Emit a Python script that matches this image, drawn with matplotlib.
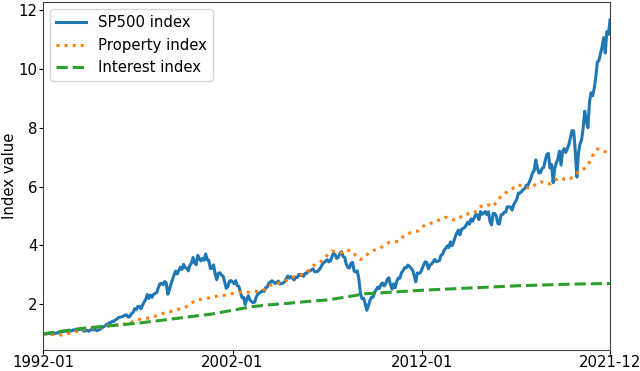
import numpy as np
import matplotlib
matplotlib.use("Agg")
import matplotlib.pyplot as plt

# Monthly S&P 500 closes, 1992-01 .. 2021-12 (normalised to the first month)
sp500_close = [
    408.79, 412.70, 403.69, 414.95, 415.35, 408.14, 424.21, 414.03, 417.80, 418.68, 431.35, 435.71,
    438.78, 443.38, 451.67, 440.19, 450.19, 450.53, 448.13, 463.56, 458.93, 467.83, 461.79, 466.45,
    481.61, 467.14, 445.77, 450.91, 456.50, 444.27, 458.26, 475.49, 462.69, 472.35, 453.69, 459.27,
    470.42, 487.39, 500.71, 514.71, 533.40, 544.75, 562.06, 561.88, 584.41, 581.50, 605.37, 615.93,
    636.02, 640.43, 645.50, 654.17, 669.12, 670.63, 639.95, 651.99, 687.33, 705.27, 757.02, 740.74,
    786.16, 790.82, 757.12, 801.34, 848.28, 885.14, 954.29, 899.47, 947.28, 914.62, 955.40, 970.43,
    980.28, 1049.34, 1101.75, 1111.75, 1090.82, 1133.84, 1120.67, 957.28, 1017.01, 1098.67, 1163.63, 1229.23,
    1279.64, 1238.33, 1286.37, 1335.18, 1301.84, 1372.71, 1328.72, 1320.41, 1282.71, 1362.93, 1388.91, 1469.25,
    1394.46, 1366.42, 1498.58, 1452.43, 1420.60, 1454.60, 1430.83, 1517.68, 1436.51, 1429.40, 1314.95, 1320.28,
    1366.01, 1239.94, 1160.33, 1249.46, 1255.82, 1224.42, 1211.23, 1133.58, 1040.94, 1059.78, 1139.45, 1148.08,
    1130.20, 1106.73, 1147.39, 1076.92, 1067.14, 989.82, 911.62, 916.07, 815.28, 885.76, 936.31, 879.82,
    855.70, 841.15, 848.18, 916.92, 963.59, 974.50, 990.31, 1008.01, 995.97, 1050.71, 1058.20, 1111.92,
    1131.13, 1144.94, 1126.21, 1107.30, 1120.68, 1140.84, 1101.72, 1104.24, 1114.58, 1130.20, 1173.82, 1211.92,
    1181.27, 1203.60, 1180.59, 1156.85, 1191.50, 1191.33, 1234.18, 1220.33, 1228.81, 1207.01, 1249.48, 1248.29,
    1280.08, 1280.66, 1294.83, 1310.61, 1270.09, 1270.20, 1276.66, 1303.82, 1335.85, 1377.94, 1400.63, 1418.30,
    1438.24, 1406.82, 1420.86, 1482.37, 1530.62, 1503.35, 1455.27, 1473.99, 1526.75, 1549.38, 1481.14, 1468.36,
    1378.55, 1330.63, 1322.70, 1385.59, 1400.38, 1280.00, 1267.38, 1282.83, 1166.36, 968.75, 896.24, 903.25,
    825.88, 735.09, 797.87, 872.81, 919.14, 919.32, 987.48, 1020.62, 1057.08, 1036.19, 1095.63, 1115.10,
    1073.87, 1104.49, 1169.43, 1186.69, 1089.41, 1030.71, 1101.60, 1049.33, 1141.20, 1183.26, 1180.55, 1257.64,
    1286.12, 1327.22, 1325.83, 1363.61, 1345.20, 1320.64, 1292.28, 1218.89, 1131.42, 1253.30, 1246.96, 1257.60,
    1312.41, 1365.68, 1408.47, 1397.91, 1310.33, 1362.16, 1379.32, 1406.58, 1440.67, 1412.16, 1416.18, 1426.19,
    1498.11, 1514.68, 1569.19, 1597.57, 1630.74, 1606.28, 1685.73, 1632.97, 1681.55, 1756.54, 1805.81, 1848.36,
    1782.59, 1859.45, 1872.34, 1883.95, 1923.57, 1960.23, 1930.67, 2003.37, 1972.29, 2018.05, 2067.56, 2058.90,
    1994.99, 2104.50, 2067.89, 2085.51, 2107.39, 2063.11, 2103.84, 1972.18, 1920.03, 2079.36, 2080.41, 2043.94,
    1940.24, 1932.23, 2059.74, 2065.30, 2096.95, 2098.86, 2173.60, 2170.95, 2168.27, 2126.15, 2198.81, 2238.83,
    2278.87, 2363.64, 2362.72, 2384.20, 2411.80, 2423.41, 2470.30, 2471.65, 2519.36, 2575.26, 2647.58, 2673.61,
    2823.81, 2713.83, 2640.87, 2648.05, 2705.27, 2718.37, 2816.29, 2901.52, 2913.98, 2711.74, 2760.17, 2506.85,
    2704.10, 2784.49, 2834.40, 2945.83, 2752.06, 2941.76, 2980.38, 2926.46, 2976.74, 3037.56, 3140.98, 3230.78,
    3225.52, 2954.22, 2584.59, 2912.43, 3044.31, 3100.29, 3271.12, 3500.31, 3363.00, 3269.96, 3621.63, 3756.07,
    3714.24, 3811.15, 3972.89, 4181.17, 4204.11, 4297.50, 4395.26, 4522.68, 4307.54, 4605.38, 4567.00, 4766.18,
]

# Property index, read every quarter (month offset from 1992-01)
property_month = list(range(0, 360, 3)) + [359]
property_index = [
    1.00, 0.99, 0.98, 0.97, 0.96, 1.00, 1.04, 1.08, 1.12, 1.16, 1.19, 1.21,
    1.23, 1.24, 1.28, 1.30, 1.31, 1.33, 1.34, 1.42, 1.48, 1.51, 1.53, 1.55,
    1.62, 1.68, 1.72, 1.76, 1.82, 1.85, 1.90, 2.00, 2.12, 2.16, 2.19, 2.22,
    2.26, 2.28, 2.30, 2.34, 2.37, 2.40, 2.42, 2.41, 2.42, 2.44, 2.46, 2.51,
    2.65, 2.70, 2.73, 2.78, 2.86, 2.94, 2.97, 3.04, 3.14, 3.31, 3.38, 3.50,
    3.67, 3.81, 3.76, 3.76, 3.82, 3.84, 3.66, 3.52, 3.64, 3.77, 3.85, 3.90,
    4.00, 4.10, 4.12, 4.14, 4.30, 4.41, 4.44, 4.48, 4.62, 4.74, 4.76, 4.80,
    4.92, 4.96, 4.90, 4.86, 4.95, 5.07, 5.07, 5.10, 5.28, 5.39, 5.38, 5.32,
    5.55, 5.73, 5.82, 5.92, 6.05, 6.04, 5.97, 5.95, 6.08, 6.17, 6.11, 6.09,
    6.21, 6.30, 6.25, 6.23, 6.36, 6.50, 6.58, 6.73, 7.05, 7.28, 7.25, 7.15,
    7.10,
]

# Interest index, read once a year
interest_month = list(range(0, 360, 12)) + [359]
interest_index = [
    1.00, 1.09, 1.18, 1.24, 1.30, 1.36, 1.44, 1.52, 1.60, 1.68,
    1.80, 1.92, 1.99, 2.04, 2.10, 2.15, 2.25, 2.36, 2.40, 2.44,
    2.48, 2.51, 2.54, 2.57, 2.60, 2.63, 2.65, 2.67, 2.69, 2.70,
    2.71,
]

tick_months = [0, 120, 240, 359]
tick_labels = ["1992-01", "2002-01", "2012-01", "2021-12"]

sp500_index = np.array(sp500_close) / sp500_close[0]
sp500_month = np.arange(len(sp500_close))

plt.rcParams["font.family"] = ["DejaVu Sans"]
plt.rcParams["font.size"] = 10.7

fig = plt.figure(figsize=(6.4, 3.71), dpi=100)
ax = fig.add_axes([43 / 640, 21 / 371, 567 / 640, 348 / 371])

ax.plot(sp500_month, sp500_index, color="#1f77b4", linestyle="-", linewidth=2.2, label="SP500 index")
ax.plot(property_month, property_index, color="#ff7f0e", linestyle=":", linewidth=2.2, label="Property index")
ax.plot(interest_month, interest_index, color="#2ca02c", linestyle="--", linewidth=2.2, label="Interest index")

ax.set_xlim(0, 359)
ax.set_ylim(0.45, 12.27)
ax.set_xticks(tick_months)
ax.set_xticklabels(tick_labels)
ax.set_yticks([2, 4, 6, 8, 10, 12])
ax.tick_params(axis="y", length=3, pad=1.2)
ax.tick_params(axis="x", length=3, pad=0.5)
ax.set_ylabel("Index value", labelpad=1)
for s in ax.spines.values():
    s.set_color("#444444")
ax.legend(loc="upper left")

fig.savefig("out.png", dpi=100)
